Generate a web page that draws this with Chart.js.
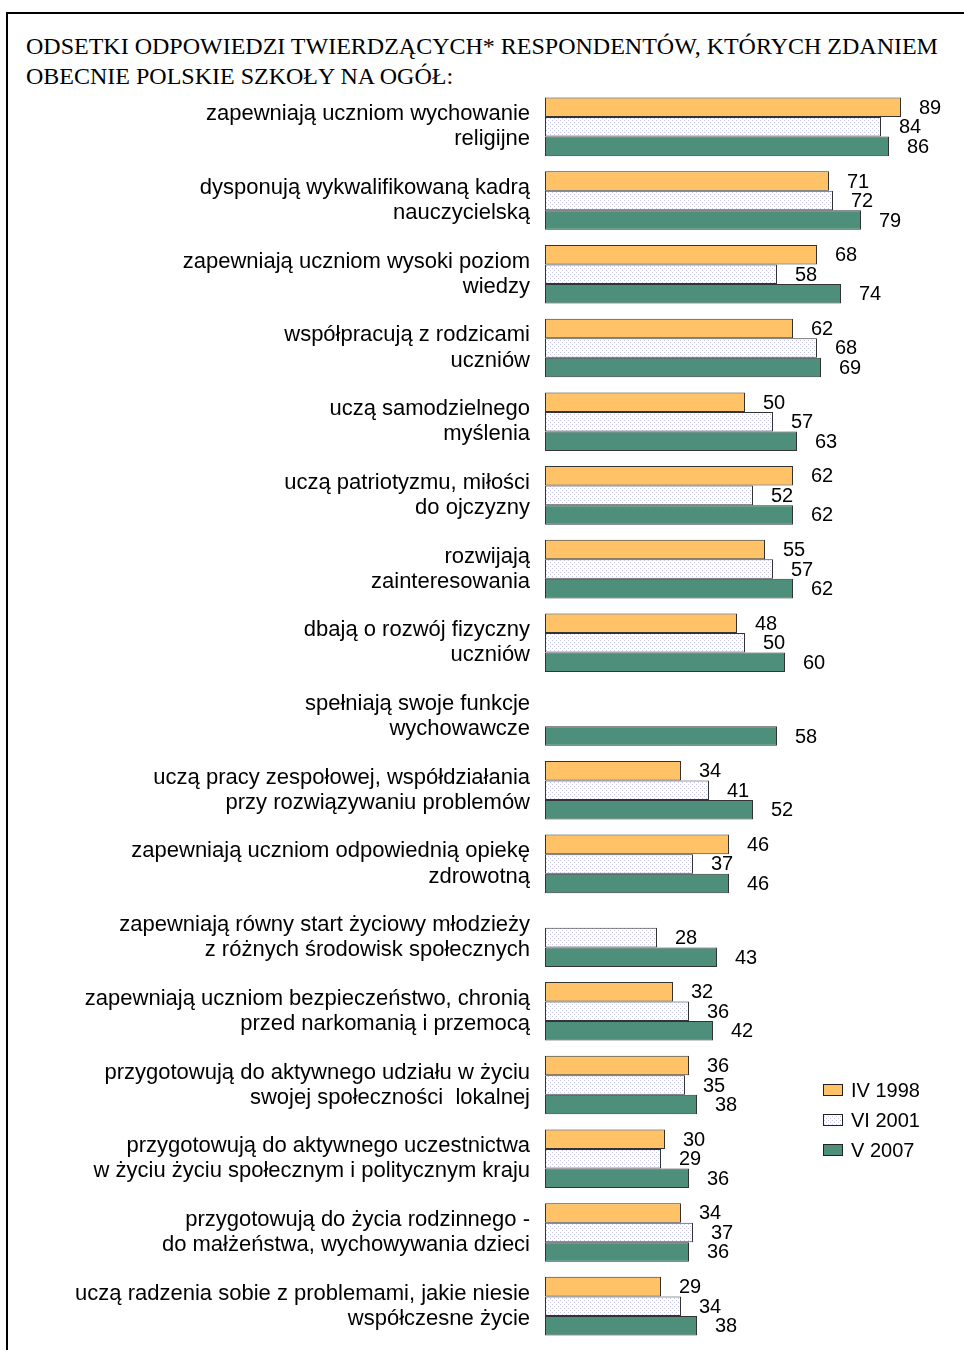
<!DOCTYPE html>
<html>
<head>
<meta charset="utf-8">
<script src="https://cdn.jsdelivr.net/npm/chart.js@4"></script>
<style>
  html, body { margin:0; padding:0; background:#fff; }
  #wrap { position:relative; width:964px; height:1350px; overflow:hidden; }
  #frame { position:absolute; left:6px; top:12px; width:1000px; height:1400px;
    border-left:2px solid #000; border-top:2px solid #000; }
  #title { position:absolute; left:26px; top:31px; font-family:"Liberation Serif", serif;
    font-size:24px; line-height:30px; color:#000; white-space:nowrap; }
  #c { position:absolute; left:0; top:0; }
</style>
</head>
<body>
<div id="wrap">
  <div id="frame"></div>
  <div id="title">ODSETKI ODPOWIEDZI TWIERDZĄCYCH* RESPONDENTÓW, KTÓRYCH ZDANIEM<br>OBECNIE POLSKIE SZKOŁY NA OGÓŁ:</div>
  <canvas id="c" width="964" height="1400"></canvas>
</div>
<script>
// categories (two-line labels)
const categories = [
  ['zapewniają uczniom wychowanie', 'religijne'],
  ['dysponują wykwalifikowaną kadrą', 'nauczycielską'],
  ['zapewniają uczniom wysoki poziom', 'wiedzy'],
  ['współpracują z rodzicami', 'uczniów'],
  ['uczą samodzielnego', 'myślenia'],
  ['uczą patriotyzmu, miłości', 'do ojczyzny'],
  ['rozwijają', 'zainteresowania'],
  ['dbają o rozwój fizyczny', 'uczniów'],
  ['spełniają swoje funkcje', 'wychowawcze'],
  ['uczą pracy zespołowej, współdziałania', 'przy rozwiązywaniu problemów'],
  ['zapewniają uczniom odpowiednią opiekę', 'zdrowotną'],
  ['zapewniają równy start życiowy młodzieży', 'z różnych środowisk społecznych'],
  ['zapewniają uczniom bezpieczeństwo, chronią', 'przed narkomanią i przemocą'],
  ['przygotowują do aktywnego udziału w życiu', 'swojej społeczności  lokalnej'],
  ['przygotowują do aktywnego uczestnictwa', 'w życiu życiu społecznym i politycznym kraju'],
  ['przygotowują do życia rodzinnego -', 'do małżeństwa, wychowywania dzieci'],
  ['uczą radzenia sobie z problemami, jakie niesie', 'współczesne życie']
];

const seriesNames = ['IV 1998', 'VI 2001', 'V 2007'];

const values1998 = [89, 71, 68, 62, 50, 62, 55, 48, null, 34, 46, null, 32, 36, 30, 34, 29];
const values2001 = [84, 72, 58, 68, 57, 52, 57, 50, null, 41, 37, 28, 36, 35, 29, 37, 34];
const values2007 = [86, 79, 74, 69, 63, 62, 62, 60, 58, 52, 46, 43, 42, 38, 36, 36, 38];

const ctx = document.getElementById('c').getContext('2d');

// dotted fill for 2001 series
function dotPattern() {
  const p = document.createElement('canvas');
  p.width = 4; p.height = 4;
  const g = p.getContext('2d');
  g.fillStyle = '#ffffff';
  g.fillRect(0, 0, 4, 4);
  g.fillStyle = '#c4c4e6';
  g.fillRect(0, 0, 1, 1);
  g.fillRect(2, 2, 1, 1);
  return ctx.createPattern(p, 'repeat');
}

const colors = ['#ffc266', dotPattern(), '#4d8f7a'];
const FONT = '"Liberation Sans", Arial, sans-serif';

// value labels next to bar ends
const valueLabels = {
  id: 'valueLabels',
  afterDatasetsDraw(chart) {
    const c = chart.ctx;
    c.save();
    c.font = '20px ' + FONT;
    c.fillStyle = '#000';
    c.textAlign = 'left';
    c.textBaseline = 'middle';
    chart.data.datasets.forEach((ds, i) => {
      chart.getDatasetMeta(i).data.forEach((bar, j) => {
        const v = ds.data[j];
        if (v === null || v === undefined) return;
        c.fillText(String(v), bar.x + 18, bar.y + 1);
      });
    });
    c.restore();
  }
};

// legend at lower right
const sideLegend = {
  id: 'sideLegend',
  afterDraw(chart) {
    const c = chart.ctx;
    c.save();
    c.font = '20px ' + FONT;
    c.textBaseline = 'middle';
    chart.data.datasets.forEach((ds, i) => {
      const y = 1090 + i * 30;
      c.fillStyle = ds.backgroundColor;
      c.fillRect(823, y - 5, 19, 10);
      c.strokeStyle = '#222';
      c.lineWidth = 1;
      c.strokeRect(823.5, y - 5.5, 19, 11);
      c.fillStyle = '#000';
      c.fillText(ds.label, 851, y + 1);
    });
    c.restore();
  }
};

new Chart(ctx, {
  type: 'bar',
  data: {
    labels: categories,
    datasets: [
      { label: seriesNames[0], data: values1998, backgroundColor: colors[0] },
      { label: seriesNames[1], data: values2001, backgroundColor: colors[1] },
      { label: seriesNames[2], data: values2007, backgroundColor: colors[2] }
    ]
  },
  options: {
    indexAxis: 'y',
    responsive: false,
    animation: false,
    layout: { padding: { left: 0, top: 90, right: 19, bottom: 57 } },
    datasets: {
      bar: {
        borderColor: '#333',
        borderWidth: 1,
        borderSkipped: false,
        barPercentage: 1,
        categoryPercentage: 0.795,
        skipNull: false
      }
    },
    scales: {
      x: { min: 0, max: 100, display: false },
      y: {
        grid: { display: false, drawTicks: false },
        border: { display: false },
        ticks: {
          color: '#000',
          padding: 15,
          autoSkip: false,
          font: { family: FONT, size: 22, lineHeight: 1.14 }
        },
        afterFit(scale) { scale.width = 545; }
      }
    },
    plugins: {
      legend: { display: false },
      tooltip: { enabled: false }
    }
  },
  plugins: [valueLabels, sideLegend]
});
</script>
</body>
</html>
